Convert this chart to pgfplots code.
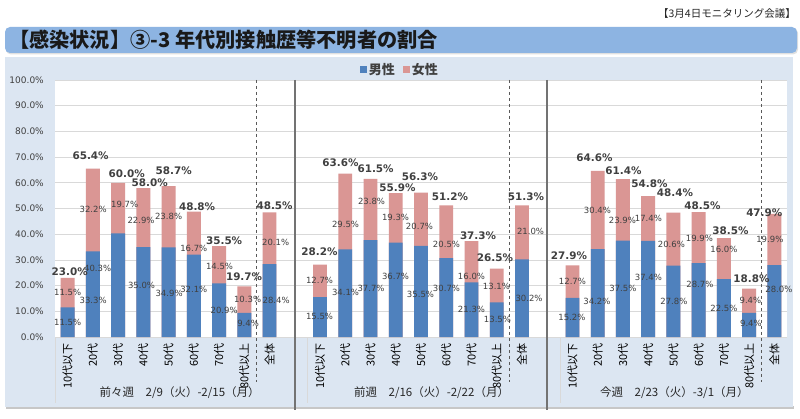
\documentclass[border=0pt]{standalone}
\usepackage{fontspec}
\setmainfont{DejaVu Sans}
\newfontfamily\cjk{Noto Sans CJK JP}
\usepackage{pgfplots}
\usepackage{pgfplotstable}
\pgfplotsset{compat=1.18}
\definecolor{maleC}{HTML}{4F81BD}
\definecolor{femC}{HTML}{DA9694}
\definecolor{panelC}{HTML}{DCE6F2}
\definecolor{titleC}{HTML}{8DB4E2}
\definecolor{labC}{HTML}{404040}

\pgfplotstableread{
x  m    f    t    mlx   mly  flx   fly  tlx   tly
0  11.5 11.5 23.0 0.00  5.8  0.00  17.5 0.08  25.3
1  33.3 32.2 65.4 1.01  14.4 1.01  49.8 0.91  70.4
2  40.3 19.7 60.0 1.19  26.8 2.26  51.7 2.34  63.4
3  35.0 22.9 58.0 2.93  20.2 2.91  45.5 3.25  59.9
4  34.9 23.8 58.7 4.02  17.0 4.00  47.1 4.20  64.6
5  32.1 16.7 48.8 5.00  18.6 5.00  34.6 5.13  50.6
6  20.9 14.5 35.5 6.20  10.5 6.02  27.3 6.20  37.4
7  9.4  10.3 19.7 7.15  5.4  7.13  14.8 6.99  23.4
8  28.4 20.1 48.5 8.26  14.4 8.24  37.0 8.20  51.0
10 15.5 12.7 28.2 9.98  8.2  9.98  22.2 9.98  33.1
11 34.1 29.5 63.6 11.01 17.5 11.01 44.0 10.81 67.7
12 37.7 23.8 61.5 12.02 19.1 12.04 52.9 12.20 65.4
13 36.7 19.3 55.9 12.99 23.7 12.99 46.7 13.07 58.0
14 35.5 20.7 56.3 13.98 16.7 13.94 43.2 13.96 62.2
15 30.7 20.5 51.2 15.01 19.1 15.01 36.2 15.15 54.6
16 21.3 16.0 37.3 16.00 10.9 16.00 23.4 16.26 39.3
17 13.5 13.1 26.5 17.03 7.0  16.99 19.8 16.93 30.8
18 30.2 21.0 51.3 18.28 15.2 18.34 40.9 18.16 54.6
20 15.2 12.7 27.9 19.98 7.8  20.00 21.8 19.86 31.5
21 34.2 30.4 64.6 20.97 14.0 20.99 49.4 20.87 69.7
22 37.5 23.9 61.4 22.00 19.1 21.98 45.5 22.02 64.6
23 37.4 17.4 54.8 23.01 23.0 23.01 46.3 23.05 59.5
24 27.8 20.6 48.4 24.02 14.0 23.92 36.2 24.06 56.0
25 28.7 19.9 48.5 25.05 20.6 25.03 38.5 25.15 51.0
26 22.5 16.0 38.5 26.00 11.3 26.00 33.9 26.26 41.2
27 9.4  9.4  18.8 27.07 5.4  27.05 14.4 27.09 22.5
28 28.0 19.9 47.9 28.18 18.6 27.82 38.1 27.60 48.3
}\data

\begin{document}
\begin{tikzpicture}
\useasboundingbox (0,0) rectangle (800bp,419bp);
\fill[white] (0,0) rectangle (800bp,419bp);
\node[anchor=east, inner sep=0pt, font=\cjk\fontsize{10.5bp}{12bp}\selectfont, text=black!85] at (796bp,405bp) {【3月4日モニタリング会議】};
\fill[black!12, rounded corners=5bp] (6bp,364.5bp) rectangle (798bp,391bp);
\fill[titleC, rounded corners=5bp] (5bp,366bp) rectangle (797bp,392bp);
\node[anchor=west, inner sep=0pt, font=\cjk\bfseries\fontsize{20.2bp}{22bp}\selectfont, text=black!90] at (9bp,379bp) {【感染状況】③-3 年代別接触歴等不明者の割合};
\fill[black!22] (6bp,9.5bp) rectangle (794bp,12.5bp);
\fill[panelC] (5bp,12bp) rectangle (793bp,362bp);
\begin{axis}[
  at={(55bp,82bp)}, anchor=south west,
  scale only axis, width=732bp, height=257bp,
  xmin=-0.5, xmax=28.5, ymin=0, ymax=100,
  clip=false,
  axis line style={draw=none},
  axis background/.style={fill=white},
  ymajorgrids, grid style={draw=black!15, line width=0.7bp},
  major tick length=0pt,
  /pgf/number format/assume math mode=true,
  ytick={0,10,...,100},
  yticklabel={\pgfmathprintnumber[fixed,fixed zerofill,precision=1]{\tick}\%},
  yticklabel style={font=\fontsize{9bp}{10bp}\selectfont, text=labC, inner sep=0pt},
  yticklabel shift=11bp,
  xtick={0,1,2,3,4,5,6,7,8,10,11,12,13,14,15,16,17,18,20,21,22,23,24,25,26,27,28},
  xticklabels={10代以下,20代,30代,40代,50代,60代,70代,80代以上,全体,10代以下,20代,30代,40代,50代,60代,70代,80代以上,全体,10代以下,20代,30代,40代,50代,60代,70代,80代以上,全体},
  xticklabel style={font=\cjk\fontsize{11bp}{12bp}\selectfont, text=black, rotate=90, anchor=east, inner sep=0pt},
  xticklabel shift=6bp,
  legend columns=2,
  legend cell align=left,
  legend image code/.code={\fill[#1] (0bp,-3.5bp) rectangle (7bp,3.5bp);},
  legend style={at={(axis description cs:0.471,1.04)}, anchor=center, draw=none, fill=none,
    font=\cjk\bfseries\fontsize{13bp}{15bp}\selectfont, text=labC,
    /tikz/every even column/.append style={column sep=6bp}},
]
\addplot[ybar, bar width=0.55, bar shift=0pt, fill=femC, draw=none, forget plot]
  table[x=x, y expr=\thisrow{m}+\thisrow{f}]{\data};
\addplot[ybar, bar width=0.55, bar shift=0pt, fill=maleC, draw=none, forget plot]
  table[x=x, y=m]{\data};
\addlegendimage{fill=maleC, draw=none}
\addlegendentry{男性}
\addlegendimage{fill=femC, draw=none}
\addlegendentry{女性}
\addplot[draw=none, forget plot, point meta=explicit,
  nodes near coords={\pgfmathprintnumber[fixed,fixed zerofill,precision=1]{\pgfplotspointmeta}\%},
  every node near coord/.append style={anchor=center, inner sep=0pt, font=\fontsize{8.5bp}{9bp}\selectfont, text=labC}]
  table[x=mlx, y=mly, meta=m]{\data};
\addplot[draw=none, forget plot, point meta=explicit,
  nodes near coords={\pgfmathprintnumber[fixed,fixed zerofill,precision=1]{\pgfplotspointmeta}\%},
  every node near coord/.append style={anchor=center, inner sep=0pt, font=\fontsize{8.5bp}{9bp}\selectfont, text=labC}]
  table[x=flx, y=fly, meta=f]{\data};
\addplot[draw=none, forget plot, point meta=explicit,
  nodes near coords={\pgfmathprintnumber[fixed,fixed zerofill,precision=1]{\pgfplotspointmeta}\%},
  every node near coord/.append style={anchor=center, inner sep=0pt, font=\bfseries\fontsize{10.4bp}{11bp}\selectfont, text=labC}]
  table[x=tlx, y=tly, meta=t]{\data};
\draw[black!15, line width=0.6bp] (axis cs:-0.5,0) -- (axis cs:-0.5,-25.7);
\draw[black!15, line width=0.6bp] (axis cs:9.5,0) -- (axis cs:9.5,-25.7);
\draw[black!15, line width=0.6bp] (axis cs:19.5,0) -- (axis cs:19.5,-25.7);
\draw[black!55, line width=1.6bp] (axis cs:9,100) -- (axis cs:9,-28.4);
\draw[black!55, line width=1.6bp] (axis cs:19,100) -- (axis cs:19,-28.4);
\draw[black!65, line width=1.1bp, dash pattern=on 3.5bp off 2.5bp] (axis cs:7.5,100) -- (axis cs:7.5,-17.5);
\draw[black!65, line width=1.1bp, dash pattern=on 3.5bp off 2.5bp] (axis cs:17.5,100) -- (axis cs:17.5,-17.5);
\draw[black!65, line width=1.1bp, dash pattern=on 3.5bp off 2.5bp] (axis cs:27.5,100) -- (axis cs:27.5,-17.5);
\node[font=\cjk\fontsize{11.5bp}{13bp}\selectfont, text=black!85] at (axis cs:4.44,-21.8) {前々週　2/9（火）-2/15（月）};
\node[font=\cjk\fontsize{11.5bp}{13bp}\selectfont, text=black!85] at (axis cs:14.42,-21.8) {前週　2/16（火）-2/22（月）};
\node[font=\cjk\fontsize{11.5bp}{13bp}\selectfont, text=black!85] at (axis cs:24.04,-21.8) {今週　2/23（火）-3/1（月）};
\end{axis}
\end{tikzpicture}
\end{document}
